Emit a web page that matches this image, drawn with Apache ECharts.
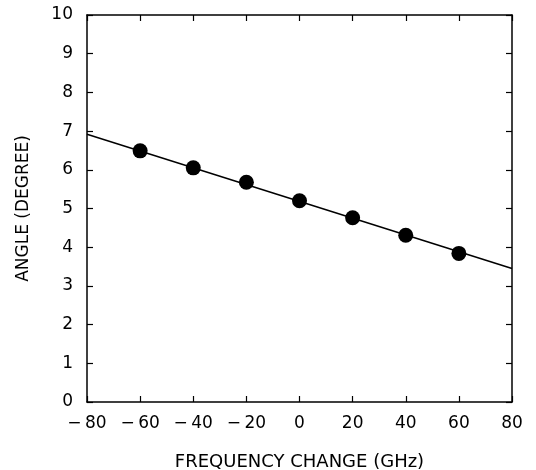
<!DOCTYPE html>
<html>
<head>
<meta charset="utf-8">
<script src="https://cdn.jsdelivr.net/npm/echarts@6/dist/echarts.min.js"></script>
<style>html,body{margin:0;padding:0;background:#fff;}#c{width:536px;height:470px;}</style>
</head>
<body>
<div id="c"></div>
<script>
var freq = [-60, -40, -20, 0, 20, 40, 60];
var angle = [6.49, 6.05, 5.68, 5.20, 4.76, 4.31, 3.84];
var fitX = [-80, 80];
var fitY = [6.92, 3.45];
var xTicks = [-80, -60, -40, -20, 0, 20, 40, 60, 80];
var yTicks = [0,1,2,3,4,5,6,7,8,9,10];

var FONT = 'DejaVu Sans';
var chart = echarts.init(document.getElementById('c'), null, {renderer:'canvas'});
function axisLine(){ return {show:true, onZero:false, lineStyle:{color:'#000', width:1.5}}; }
function tickIn(){ return {show:true, inside:true, length:6, lineStyle:{color:'#000', width:1.2}}; }
var fmtX = function(v){ return v < 0 ? '\u2212\u2009' + Math.abs(v) : String(v); };
chart.setOption({
  animation:false,
  backgroundColor:'#fff',
  grid:{left:87, right:24, top:15, bottom:68, containLabel:false, outerBoundsMode:'none'},
  xAxis:[{
    type:'value', min:-80, max:80, interval:20, position:'bottom',
    axisLine:axisLine(), axisTick:tickIn(), splitLine:{show:false},
    axisLabel:{color:'#000', fontFamily:FONT, fontSize:17, margin:13, formatter:fmtX},
    name:'FREQUENCY CHANGE (GHz)', nameLocation:'middle', nameGap:51,
    nameTextStyle:{color:'#000', fontFamily:FONT, fontSize:18}
  },{
    type:'value', min:-80, max:80, interval:20, position:'top',
    axisLine:axisLine(), axisTick:tickIn(), axisLabel:{show:false}, splitLine:{show:false}
  }],
  yAxis:[{
    type:'value', min:0, max:10, interval:1, position:'left',
    axisLine:axisLine(), axisTick:tickIn(), splitLine:{show:false},
    axisLabel:{color:'#000', fontFamily:FONT, fontSize:17, margin:14},
    name:'ANGLE (DEGREE)', nameLocation:'middle', nameGap:55, nameRotate:90,
    nameTextStyle:{color:'#000', fontFamily:FONT, fontSize:17}
  },{
    type:'value', min:0, max:10, interval:1, position:'right',
    axisLine:axisLine(), axisTick:tickIn(), axisLabel:{show:false}, splitLine:{show:false}
  }],
  series:[{
    type:'line', data:fitX.map(function(x,i){return [x, fitY[i]];}),
    showSymbol:false, lineStyle:{color:'#000', width:1.5}, z:2
  },{
    type:'scatter', data:freq.map(function(x,i){return [x, angle[i]];}),
    symbol:'circle', symbolSize:15, itemStyle:{color:'#000', opacity:1}, z:3
  }]
});
</script>
</body>
</html>
